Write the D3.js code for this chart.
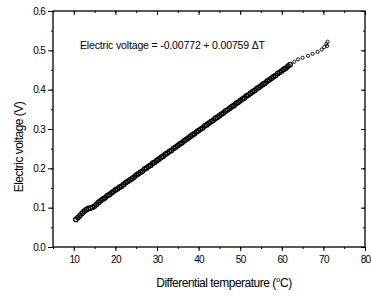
<!DOCTYPE html>
<html>
<head>
<meta charset="utf-8">
<script src="https://cdn.jsdelivr.net/npm/d3@7"></script>
<style>
  body { margin: 0; background: #fff; }
  svg text { font-family: "Liberation Sans", Arial, sans-serif; fill: #000; }
</style>
</head>
<body>
<div id="chart"></div>
<script>
// measured points (differential temperature in C, electric voltage in V)
const tempDiff = [
  10.5, 11, 11.5, 12, 12.5, 13, 13.5, 14, 14.5, 15, 15.5, 16, 16.5, 17, 17.5, 18, 18.5, 19, 19.5, 20,
  20.5, 21, 21.5, 22, 22.5, 23, 23.5, 24, 24.5, 25, 25.5, 26, 26.5, 27, 27.5, 28, 28.5, 29, 29.5, 30,
  30.5, 31, 31.5, 32, 32.5, 33, 33.5, 34, 34.5, 35, 35.5, 36, 36.5, 37, 37.5, 38, 38.5, 39, 39.5, 40,
  40.5, 41, 41.5, 42, 42.5, 43, 43.5, 44, 44.5, 45, 45.5, 46, 46.5, 47, 47.5, 48, 48.5, 49, 49.5, 50,
  50.5, 51, 51.5, 52, 52.5, 53, 53.5, 54, 54.5, 55, 55.5, 56, 56.5, 57, 57.5, 58, 58.5, 59, 59.5, 60,
  60.5, 61, 61.5, 62,
  63.0, 63.9, 65.0, 66.3, 67.4, 68.6, 69.6, 70.2, 70.7, 71.0, 70.9
];
const voltage = [
  0.070, 0.075, 0.080, 0.086, 0.091, 0.095, 0.098, 0.099, 0.101, 0.104, 0.109, 0.114, 0.118, 0.122, 0.125, 0.130, 0.133, 0.137, 0.141, 0.145,
  0.148, 0.152, 0.155, 0.159, 0.164, 0.167, 0.171, 0.174, 0.178, 0.183, 0.186, 0.190, 0.193, 0.198, 0.201, 0.205, 0.208, 0.213, 0.216, 0.220,
  0.224, 0.228, 0.231, 0.236, 0.239, 0.243, 0.246, 0.251, 0.254, 0.258, 0.262, 0.265, 0.270, 0.273, 0.277, 0.281, 0.285, 0.288, 0.293, 0.296,
  0.300, 0.303, 0.308, 0.311, 0.315, 0.319, 0.322, 0.327, 0.330, 0.334, 0.338, 0.341, 0.346, 0.349, 0.353, 0.357, 0.360, 0.365, 0.368, 0.372,
  0.376, 0.379, 0.384, 0.387, 0.391, 0.395, 0.398, 0.403, 0.406, 0.410, 0.414, 0.417, 0.422, 0.425, 0.429, 0.433, 0.436, 0.441, 0.444, 0.448,
  0.452, 0.455, 0.460, 0.464,
  0.471, 0.477, 0.481, 0.486, 0.491, 0.496, 0.502, 0.508, 0.516, 0.522, 0.511
];
const xTicks = [10, 20, 30, 40, 50, 60, 70, 80];
const yTicks = [0.0, 0.1, 0.2, 0.3, 0.4, 0.5, 0.6];
const equation = 'Electric voltage = -0.00772 + 0.00759 \u0394T';

const width = 371, height = 296;
const svg = d3.select('#chart').append('svg')
  .attr('width', width)
  .attr('height', height);

const x = d3.scaleLinear().domain([5, 80]).range([53, 365]);
const y = d3.scaleLinear().domain([0, 0.6]).range([247, 11]);

const xMinor = d3.range(5, 80.1, 5);
const yMinor = d3.range(0, 0.601, 0.05);

// frame lines
svg.append('rect')
  .attr('x', x(5)).attr('y', y(0.6))
  .attr('width', x(80) - x(5)).attr('height', y(0) - y(0.6))
  .attr('fill', 'none').attr('stroke', '#000').attr('stroke-width', 1.3);

// bottom axis: labels + outward ticks
const bottomAxis = svg.append('g').attr('transform', `translate(0,${y(0)})`)
  .call(d3.axisBottom(x).tickValues(xTicks).tickSize(4).tickPadding(5).tickFormat(d3.format('d')));
bottomAxis.select('.domain').remove();
bottomAxis.selectAll('text').attr('font-size', 10).attr('letter-spacing', -0.7);
svg.append('g').attr('transform', `translate(0,${y(0)})`)
  .call(d3.axisBottom(x).tickValues(xMinor).tickSize(2).tickFormat(''))
  .select('.domain').remove();

// left axis
const leftAxis = svg.append('g').attr('transform', `translate(${x(5)},0)`)
  .call(d3.axisLeft(y).tickValues(yTicks).tickSize(5).tickPadding(3).tickFormat(d3.format('.1f')));
leftAxis.select('.domain').remove();
leftAxis.selectAll('text').attr('font-size', 10).attr('letter-spacing', -0.7);
svg.append('g').attr('transform', `translate(${x(5)},0)`)
  .call(d3.axisLeft(y).tickValues(yMinor).tickSize(2).tickFormat(''))
  .select('.domain').remove();

// top and right axes: inward ticks, no labels
const topAxis = svg.append('g').attr('transform', `translate(0,${y(0.6)})`)
  .call(d3.axisBottom(x).tickValues(xTicks).tickSize(4).tickFormat(''));
topAxis.select('.domain').remove();
svg.append('g').attr('transform', `translate(0,${y(0.6)})`)
  .call(d3.axisBottom(x).tickValues(xMinor).tickSize(2).tickFormat(''))
  .select('.domain').remove();
const rightAxis = svg.append('g').attr('transform', `translate(${x(80)},0)`)
  .call(d3.axisLeft(y).tickValues(yTicks).tickSize(4).tickFormat(''));
rightAxis.select('.domain').remove();
svg.append('g').attr('transform', `translate(${x(80)},0)`)
  .call(d3.axisLeft(y).tickValues(yMinor).tickSize(2).tickFormat(''))
  .select('.domain').remove();

svg.selectAll('.tick line').attr('stroke', '#000');

// points
const points = tempDiff.map((t, i) => ({ t: t, v: voltage[i] }));
svg.append('g')
  .selectAll('circle')
  .data(points)
  .join('circle')
  .attr('cx', d => x(d.t))
  .attr('cy', d => y(d.v))
  .attr('r', d => d.t > 62 ? 1.6 : 2.2)
  .attr('fill', 'none')
  .attr('stroke', '#000')
  .attr('stroke-width', d => d.t > 62 ? 0.9 : 1.3);

// fit equation
svg.append('text')
  .attr('x', 80).attr('y', 49)
  .attr('font-size', 10.5)
  .attr('letter-spacing', -0.15)
  .text(equation);

// axis titles
svg.append('text')
  .attr('x', 224).attr('y', 287)
  .attr('text-anchor', 'middle')
  .attr('font-size', 12)
  .attr('letter-spacing', -0.5)
  .text('Differential temperature (\u00b0C)');

svg.append('text')
  .attr('transform', 'translate(23,147) rotate(-90)')
  .attr('text-anchor', 'middle')
  .attr('font-size', 12)
  .attr('letter-spacing', -0.5)
  .text('Electric voltage (V)');
</script>
</body>
</html>
